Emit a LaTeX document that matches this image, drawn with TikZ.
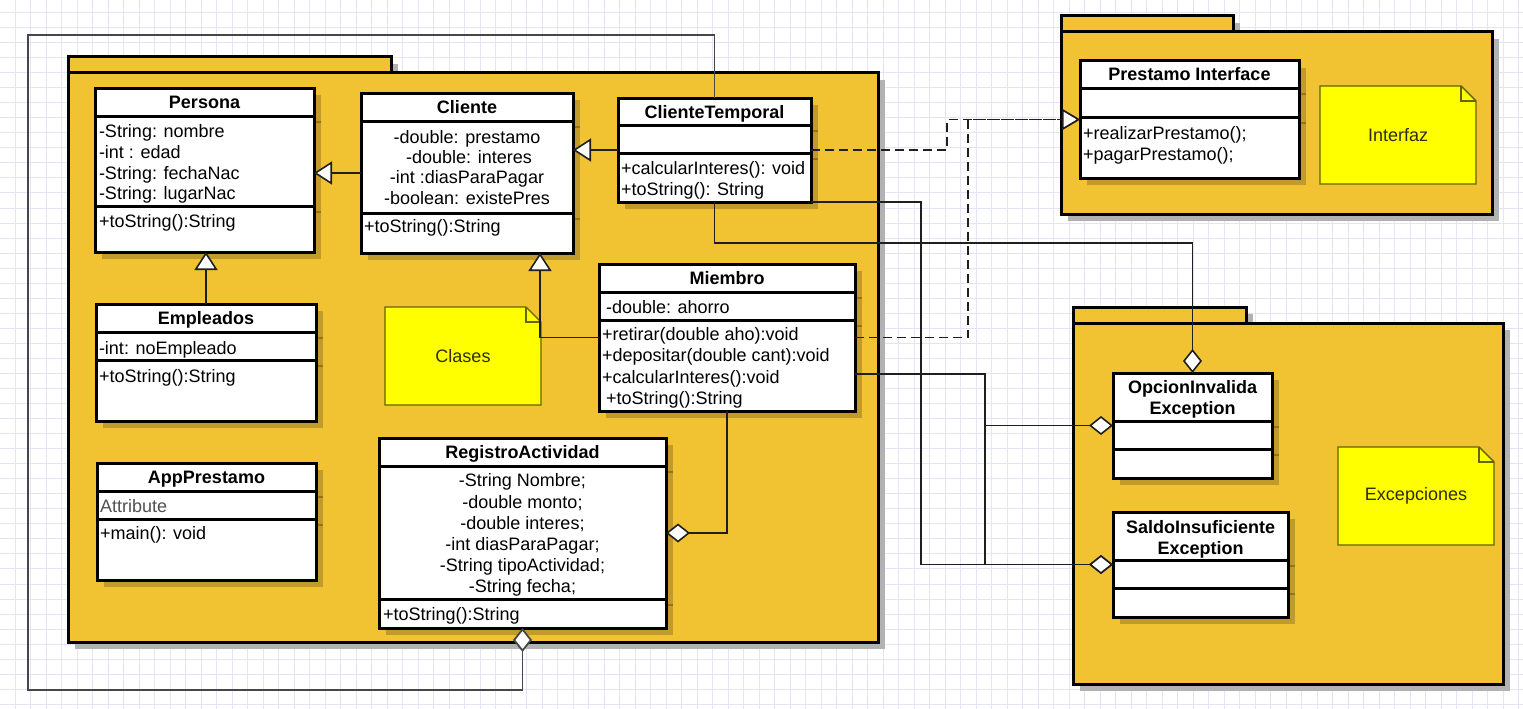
\documentclass[tikz,border=0pt]{standalone}
\usepackage{fontspec}
\setmainfont{Liberation Sans}
\usetikzlibrary{arrows.meta}

\definecolor{pkgfill}{RGB}{241,194,50}
\definecolor{notefill}{RGB}{255,255,0}
\definecolor{noteline}{RGB}{100,100,0}
\definecolor{notetextcol}{RGB}{45,45,20}
\definecolor{gridcol}{RGB}{228,228,248}
\definecolor{pkgshadow}{RGB}{178,178,178}
\definecolor{boxshadow}{RGB}{192,154,42}
\definecolor{attrgray}{RGB}{80,80,80}

\tikzset{
  txt/.style={font=\fontsize{18}{21}\selectfont, inner sep=0pt, outer sep=0pt},
  bold/.style={txt, font=\fontsize{18}{21}\selectfont\bfseries},
  classbox/.style={draw=black, fill=white, line width=3pt, inner sep=0pt, outer sep=0pt},
  sepline/.style={draw=black, line width=3pt},
  pkgbody/.style={draw=black, fill=pkgfill, line width=3pt, inner sep=0pt, outer sep=0pt},
  pkgtab/.style={draw=black, fill=pkgfill, line width=3pt},
  noteshape/.style={draw=noteline, fill=notefill, line width=1.4pt, line join=miter},
  notelabel/.style={txt, text=notetextcol, inner sep=0pt, outer sep=0pt},
  gridline/.style={draw=gridcol, line width=0.8pt},
  conn/.style={draw=black!88, line width=1.6pt},
  gen/.style={conn, -{Triangle[length=18pt, width=23pt, fill=white]}},
  real/.style={conn, dash pattern=on 9pt off 5pt, -{Triangle[length=18pt, width=21pt, fill=white]}},
  agg/.style={conn, -{Diamond[length=24pt, width=19pt, fill=white]}},
}

% class box: name, x1, y1, x2, y2, compartment separators
\newcommand{\umlClass}[6]{%
  \fill[boxshadow] (#2+7,#3+7) rectangle (#4+7,#5+7);
  \foreach \s in {#6} {\draw[boxshadow!75!black, line width=1.5pt] (#4+1.5,\s+6) -- (#4+7,\s+6);}
  \node[classbox, minimum width={(#4-#2)*1pt}, minimum height={(#5-#3)*1pt}]
    (#1) at ({(#2+#4)/2},{(#3+#5)/2}) {};
  \foreach \s in {#6} {\draw[sepline] (#2,\s) -- (#4,\s);}
}

% package: name, tab right x, tab top y, x1, body top y, x2, y2
\newcommand{\umlPackage}[7]{%
  \fill[pkgshadow] (#4+7,#3+7) rectangle (#2+7,#5+7);
  \fill[pkgshadow] (#4+7,#5+7) rectangle (#6+7,#7+7);
  \draw[pkgtab] (#4,#3) rectangle (#2,#5);
  \node[pkgbody, minimum width={(#6-#4)*1pt}, minimum height={(#7-#5)*1pt}]
    (#1) at ({(#4+#6)/2},{(#5+#7)/2}) {};
}

% note with folded corner: name, x1, y1, x2, y2, text
\newcommand{\umlNote}[6]{%
  \draw[noteshape] (#2,#3) -- (#4-15,#3) -- (#4,#3+15) -- (#4,#5) -- (#2,#5) -- cycle;
  \draw[noteshape, fill=none] (#4-15,#3) -- (#4-15,#3+15) -- (#4,#3+15);
  \node[notelabel, minimum width={(#4-#2)*1pt}, minimum height={(#5-#3)*1pt}]
    (#1) at ({(#2+#4)/2},{(#3+#5)/2}) {#6};
}

\begin{document}
\begin{tikzpicture}[x=1pt, y=-1pt]
\useasboundingbox (0,0) rectangle (1523,709);
\fill[white] (0,0) rectangle (1523,709);

% background grid
\foreach \gx in {0,...,97} {\draw[gridline] ({15+15.5*\gx},0) -- ({15+15.5*\gx},709);}
\foreach \gy in {0,...,46} {\draw[gridline] (0,{12.4+15.04*\gy}) -- (1523,{12.4+15.04*\gy});}

% packages
\umlPackage{pkgclases}{391}{57}{68}{73}{878}{642}
\umlPackage{pkginterfaz}{1233}{16}{1061}{32}{1492}{214}
\umlPackage{pkgexcep}{1246}{307}{1073}{323}{1503}{684}

% classes
\umlClass{persona}{95}{88}{314}{252}{116,206}
\node[bold, anchor=base] (persona-n) at (204.5,108) {Persona};
\node[txt, anchor=base west] (persona-a1) at (99,137) {-String: nombre};
\node[txt, anchor=base west] (persona-a2) at (99,158) {-int : edad};
\node[txt, anchor=base west] (persona-a3) at (99,179) {-String: fechaNac};
\node[txt, anchor=base west] (persona-a4) at (99,199) {-String: lugarNac};
\node[txt, anchor=base west] (persona-m1) at (99,227) {+toString():String};

\umlClass{cliente}{361}{93}{573}{253}{121,213}
\node[bold, anchor=base] (cliente-n) at (467,113.5) {Cliente};
\node[txt, anchor=base] (cliente-a1) at (467,143) {-double: prestamo};
\node[txt, anchor=base] (cliente-a2) at (469,163) {-double: interes};
\node[txt, anchor=base] (cliente-a3) at (467,183) {-int :diasParaPagar};
\node[txt, anchor=base] (cliente-a4) at (467,204) {-boolean: existePres};
\node[txt, anchor=base west] (cliente-m1) at (364,232) {+toString():String};

\umlClass{ctemp}{618}{98}{811}{202}{125,153}
\node[bold, anchor=base] (ctemp-n) at (714.5,118) {ClienteTemporal};
\node[txt, anchor=base west] (ctemp-m1) at (621,174) {+calcularInteres(): void};
\node[txt, anchor=base west] (ctemp-m2) at (621,195) {+toString(): String};

\umlClass{empleados}{96}{304}{316}{421}{332,360}
\node[bold, anchor=base] (empleados-n) at (206,324) {Empleados};
\node[txt, anchor=base west] (empleados-a1) at (99,354) {-int: noEmpleado};
\node[txt, anchor=base west] (empleados-m1) at (99,382) {+toString():String};

\umlClass{app}{97}{463}{316}{580}{491,519}
\node[bold, anchor=base] (app-n) at (206.5,483) {AppPrestamo};
\node[txt, anchor=base west, text=attrgray] (app-a1) at (100,512) {Attribute};
\node[txt, anchor=base west] (app-m1) at (100,539) {+main(): void};

\umlClass{miembro}{599}{264}{855}{411}{292,320}
\node[bold, anchor=base] (miembro-n) at (727,284) {Miembro};
\node[txt, anchor=base west] (miembro-a1) at (606,313) {-double: ahorro};
\node[txt, anchor=base west] (miembro-m1) at (602,340) {+retirar(double aho):void};
\node[txt, anchor=base west] (miembro-m2) at (602,361) {+depositar(double cant):void};
\node[txt, anchor=base west] (miembro-m3) at (602,383) {+calcularInteres():void};
\node[txt, anchor=base west] (miembro-m4) at (606,404) {+toString():String};

\umlClass{ra}{379}{438}{666}{628}{466,599}
\node[bold, anchor=base] (ra-n) at (522.5,458) {RegistroActividad};
\node[txt, anchor=base] (ra-a1) at (522.5,486) {-String Nombre;};
\node[txt, anchor=base] (ra-a2) at (522.5,508) {-double monto;};
\node[txt, anchor=base] (ra-a3) at (522.5,529) {-double interes;};
\node[txt, anchor=base] (ra-a4) at (522.5,550) {-int diasParaPagar;};
\node[txt, anchor=base] (ra-a5) at (522.5,571) {-String tipoActividad;};
\node[txt, anchor=base] (ra-a6) at (522.5,592) {-String fecha;};
\node[txt, anchor=base west] (ra-m1) at (383,620) {+toString():String};

\umlClass{pi}{1080}{61}{1299}{178}{88,117}
\node[bold, anchor=base] (pi-n) at (1189.5,81) {Prestamo Interface};
\node[txt, anchor=base west] (pi-m1) at (1083,139) {+realizarPrestamo();};
\node[txt, anchor=base west] (pi-m2) at (1083,160) {+pagarPrestamo();};

\umlClass{oi}{1113}{373}{1272}{478}{421,449}
\node[bold, anchor=base] (oi-n1) at (1192.5,393) {OpcionInvalida};
\node[bold, anchor=base] (oi-n2) at (1192.5,414) {Exception};

\umlClass{si}{1113}{512}{1288}{617}{560,588}
\node[bold, anchor=base] (si-n1) at (1200.5,533) {SaldoInsuficiente};
\node[bold, anchor=base] (si-n2) at (1200.5,554) {Exception};

% notes
\umlNote{clases}{385}{307}{541}{405}{Clases}
\umlNote{interfaz}{1320}{86}{1476}{184}{Interfaz}
\umlNote{excep}{1338}{447}{1494}{545}{Excepciones}

% connectors
\coordinate (loopTL) at (28,35);
\coordinate (loopBL) at (28,690);

\draw[gen] (cliente.west) -- (cliente.west -| persona.east);
\draw[gen] (empleados.north) -- (empleados.north |- persona.south);
\draw[gen] (ctemp.west) -- (ctemp.west -| cliente.east);
\draw[conn] (clases.east |- miembro.west) -- (miembro.west);
\draw[gen] (miembro.west) -| ([xshift=73pt]cliente.south);

\draw[real] (ctemp.east) -- ++(136,0) |- (pi.west);
\draw[real] (miembro.east) -- ++(113,0) |- (pi.west);

\draw[agg] ([yshift=-36.5pt]miembro.east) -- ++(130,0) |- (oi.west);
\draw[agg] ([yshift=-36.5pt]miembro.east) -- ++(130,0) |- (si.west);
\draw[agg] (ctemp.south east) -- ++(110,0) |- (si.west);
\draw[agg] (ctemp.south) -- ++(0,41) -| (oi.north);
\draw[agg] (miembro.south) |- (ra.east);
\draw[agg, draw=black!72, line width=1.8pt] (ctemp.north) |- (loopTL) -- (loopBL) -| (ra.south);
\end{tikzpicture}
\end{document}
